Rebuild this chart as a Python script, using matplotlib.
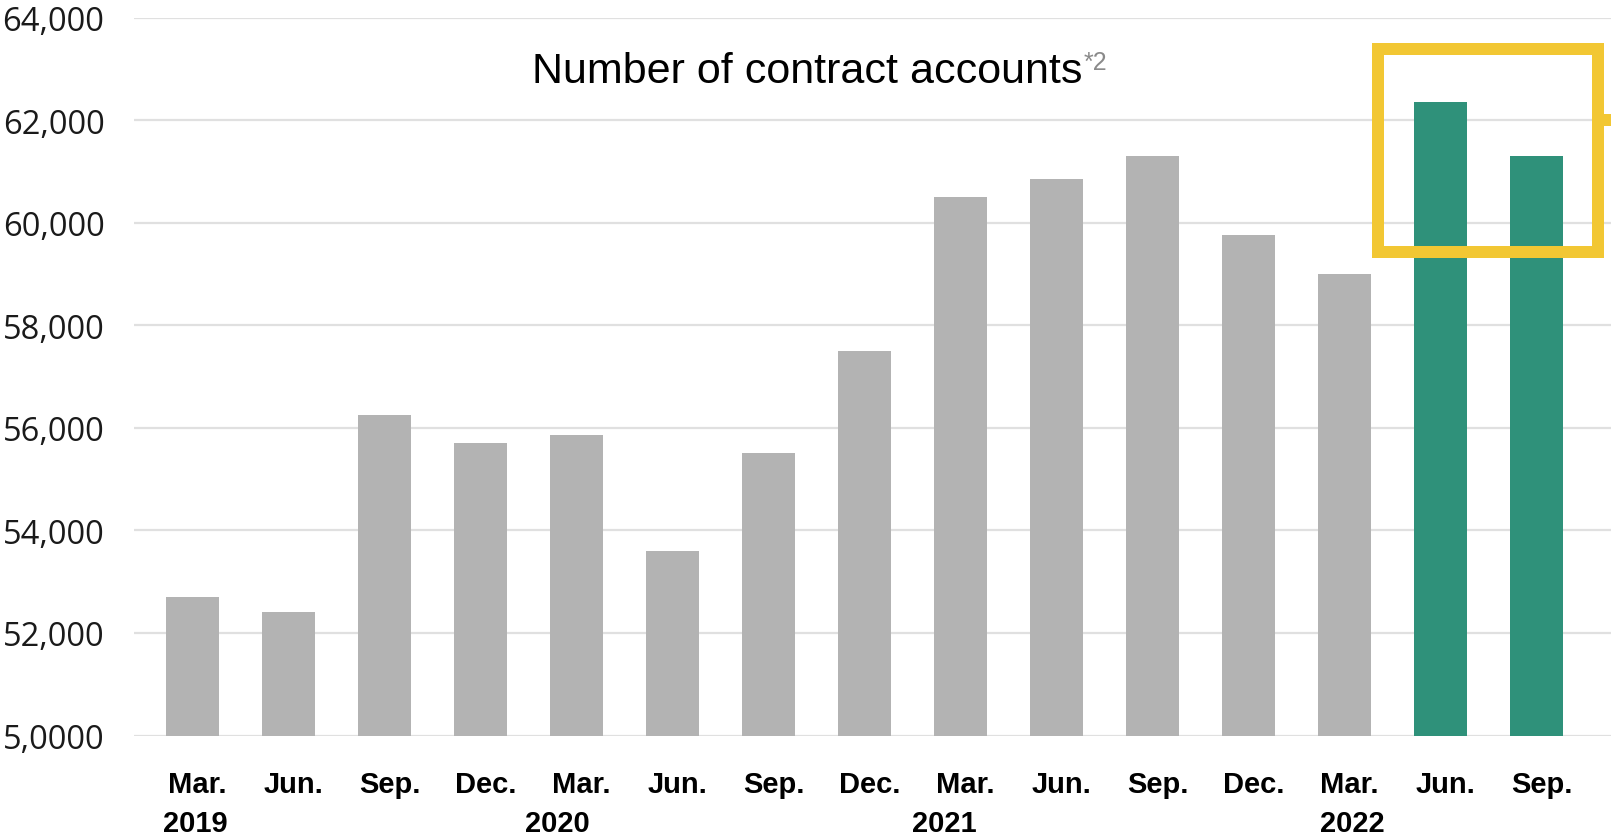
import matplotlib
matplotlib.use("Agg")
import matplotlib.pyplot as plt
from matplotlib.patches import Rectangle
from matplotlib.lines import Line2D
import matplotlib.transforms as mtransforms

# ---- data ----
months = ["Mar.", "Jun.", "Sep.", "Dec.", "Mar.", "Jun.", "Sep.", "Dec.",
          "Mar.", "Jun.", "Sep.", "Dec.", "Mar.", "Jun.", "Sep."]
values = [52700, 52400, 56250, 55700, 55850, 53600, 55500, 57500,
          60500, 60850, 61300, 59750, 59000, 62350, 61300]
highlight = [False] * 13 + [True, True]
years = ["2019", "2020", "2021", "2022"]
year_pos = [0.03, 3.8, 7.83, 12.08]
yticks = [50000, 52000, 54000, 56000, 58000, 60000, 62000, 64000]
ytick_labels = ["5,0000", "52,000", "54,000", "56,000", "58,000", "60,000", "62,000", "64,000"]
title = "Number of contract accounts"
title_note = "*2"

GRAY = "#B3B3B3"
GREEN = "#2F917A"
YELLOW = "#F2C733"

W, H = 1611, 837
fig = plt.figure(figsize=(W / 100, H / 100), dpi=100)
ax = fig.add_axes([133.6 / W, 1 - 736.5 / H, 1 - 133.6 / W, (736.5 - 18.5) / H])

x = list(range(len(values)))
colors = [GREEN if h else GRAY for h in highlight]
ax.bar(x, values, width=0.556, color=colors, linewidth=0, zorder=3)

ax.set_ylim(50000, 64000)
ax.set_xlim(-0.615, 14.775)
ax.set_yticks(yticks)
ax.set_yticklabels(ytick_labels, fontfamily="Open Sans", fontsize=23.5, color="#1a1a1a")
ax.tick_params(axis="y", length=0, pad=21)
ax.grid(axis="y", color="#E0E0E0", linewidth=1.6, zorder=0)
ax.set_axisbelow(True)
for s in ax.spines.values():
    s.set_visible(False)

ax.set_xticks(x)
ax.set_xticklabels(months, fontfamily="Liberation Sans", fontweight="bold", fontsize=21, color="black")
ax.tick_params(axis="x", length=0, pad=24.5)
shift = mtransforms.ScaledTranslation(5 / 100, 0, fig.dpi_scale_trans)
for lab in ax.get_xticklabels():
    lab.set_transform(lab.get_transform() + shift)

trans = mtransforms.blended_transform_factory(ax.transData, fig.transFigure)
for yr, xp in zip(years, year_pos):
    ax.text(xp, 1 - 824 / H, yr, transform=trans, ha="center", va="center",
            fontfamily="Liberation Sans", fontweight="bold", fontsize=21, color="black")

# title with superscript note
t = fig.text(807 / W, 1 - 72 / H, title, ha="center", va="center",
             fontfamily="Liberation Sans", fontsize=31, color="black")
fig.canvas.draw()
bb = t.get_window_extent()
fig.text(bb.x1 / W + 0.001, 1 - 63 / H, title_note, ha="left", va="center",
         fontfamily="Liberation Sans", fontsize=18, color="#8a8a8a")

# yellow highlight box
lw = 12 * 72 / 100
rect = Rectangle((1378 / W, 1 - 253 / H), (1598 - 1378) / W, (253 - 50) / H,
                 transform=fig.transFigure, fill=False, edgecolor=YELLOW,
                 linewidth=lw, zorder=10, joinstyle="miter")
fig.patches.append(rect)
fig.lines.append(Line2D([1604 / W, 1.0], [1 - 121 / H, 1 - 121 / H], transform=fig.transFigure,
                        color=YELLOW, linewidth=lw, solid_capstyle="butt"))

fig.savefig("out.png", dpi=100)
